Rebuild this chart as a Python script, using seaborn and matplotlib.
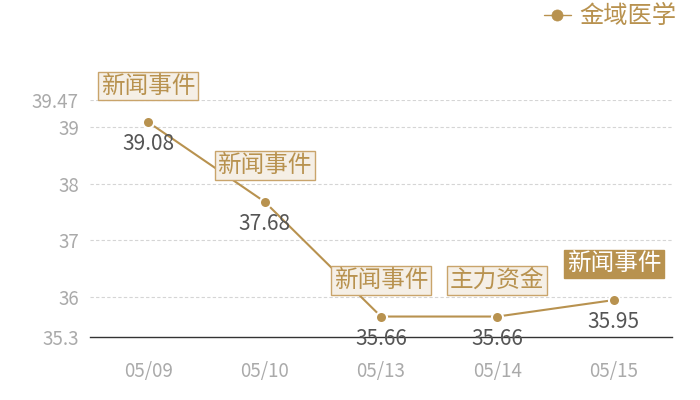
import matplotlib
matplotlib.use("Agg")
import matplotlib.pyplot as plt
import seaborn as sns
import pandas as pd

dates = ["05/09", "05/10", "05/13", "05/14", "05/15"]
values = [39.08, 37.68, 35.66, 35.66, 35.95]
events = ["新闻事件", "新闻事件", "新闻事件", "主力资金", "新闻事件"]
series_name = "金域医学"
yticks = [35.3, 36, 37, 38, 39, 39.47]
ytick_labels = ["35.3", "36", "37", "38", "39", "39.47"]

sns.set_theme(style="white")
plt.rcParams['font.family'] = ['Noto Sans CJK SC', 'DejaVu Sans']

gold = "#b8924f"
df = pd.DataFrame({"date": dates, "value": values, "series": series_name})

fig = plt.figure(figsize=(7, 4), dpi=100)
ax = fig.add_axes([90/700, 1-337/400, 582/700, 237/400])

sns.lineplot(data=df, x="date", y="value", hue="series", palette=[gold],
             marker="o", markersize=8, markeredgecolor="white", markeredgewidth=1.5,
             linewidth=1.5, ax=ax, sort=False)

ax.set_xlim(-0.5, 4.5)
ax.set_ylim(35.3, 39.47)
ax.set_yticks(yticks)
ax.set_yticklabels(ytick_labels)
for y in yticks[1:]:
    ax.axhline(y, color="#d5d5d5", linestyle=(0, (3, 2)), linewidth=0.8, zorder=0)
ax.set_xlabel("")
ax.set_ylabel("")
for s in ["left", "right", "top"]:
    ax.spines[s].set_visible(False)
ax.spines["bottom"].set_color("#333333")
ax.spines["bottom"].set_linewidth(1)
ax.tick_params(axis="both", length=0, colors="#aaaaaa", labelsize=13.5)
ax.tick_params(axis="x", pad=17)
ax.tick_params(axis="y", pad=8)

for i, (v, ev) in enumerate(zip(values, events)):
    ax.annotate(f"{v:.2f}", (i, v), xytext=(0, -16), textcoords="offset points",
                ha="center", va="center", fontsize=15, color="#555555", zorder=5)
    last = (i == len(values) - 1)
    ax.annotate(ev, (i, v), xytext=(0, 26), textcoords="offset points",
                ha="center", va="center", fontsize=17,
                color="white" if last else gold, zorder=6,
                bbox=dict(boxstyle="square,pad=0.12",
                          fc=gold if last else "#f5efe6",
                          ec=gold if last else "#c9a46b", lw=1))

leg = ax.legend(loc="upper right", bbox_to_anchor=(1.045, 1.5), frameon=False,
                fontsize=17.5, handlelength=1.1, handletextpad=0.35)
for t in leg.get_texts():
    t.set_color(gold)
for h in leg.get_lines():
    h.set_markeredgecolor(gold)
    h.set_markeredgewidth(0.5)
    h.set_linewidth(1.0)

fig.savefig("out.png", dpi=100)
